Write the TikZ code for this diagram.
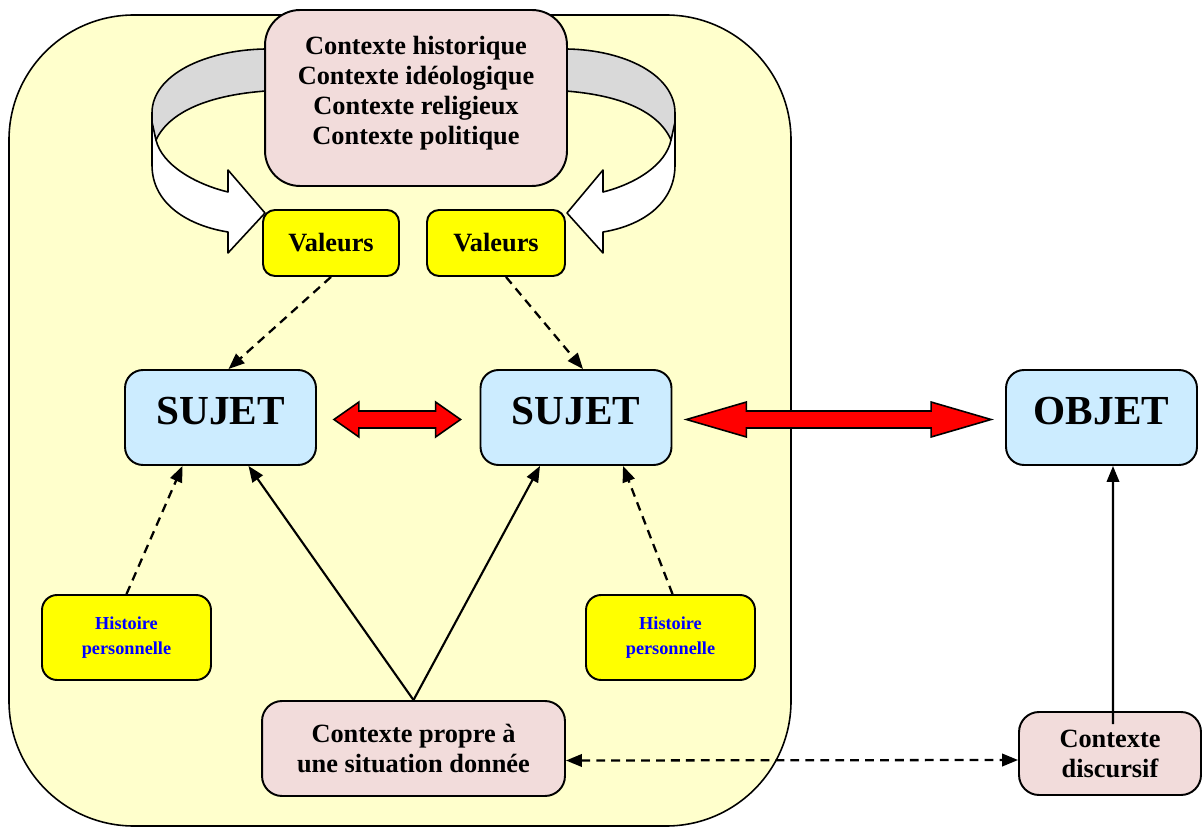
\documentclass[tikz,border=0pt]{standalone}
\usepackage{fontspec}
\setmainfont{Liberation Serif}
\usetikzlibrary{calc,arrows.meta}

\definecolor{fondjaune}{HTML}{FFFFCC}
\definecolor{rose}{HTML}{F2DCDB}
\definecolor{jaune}{HTML}{FFFF00}
\definecolor{bleuclair}{HTML}{CCECFF}
\definecolor{gris}{HTML}{D9D9D9}

\tikzset{
    boite/.style={draw, line width=1.1pt, align=center, inner sep=0pt,
        font=\bfseries\fontsize{15}{17}\selectfont},
    contexte/.style={boite, fill=rose, rounded corners=0.4cm},
    valeur/.style={boite, fill=jaune, rounded corners=0.24cm, minimum height=1.32cm},
    sujet/.style={boite, fill=bleuclair, rounded corners=0.36cm,
        minimum width=3.82cm, minimum height=1.9cm, text depth=2.6mm,
        font=\bfseries\fontsize{23.5}{26}\selectfont},
    histoire/.style={boite, fill=jaune, rounded corners=0.3cm, text=blue,
        minimum width=3.38cm, minimum height=1.7cm,
        font=\bfseries\fontsize{10.4}{14}\selectfont},
    pointe/.tip={Triangle[length=3.2mm,width=2.5mm]},
    pointille/.style={line width=1.3pt, dash pattern=on 5pt off 3.5pt, -pointe},
    fleche/.style={line width=1.2pt, -pointe},
    ruban/.style={draw, line width=0.9pt, line join=round},
}

\def\RedArrow#1#2#3{
    \filldraw[fill=red, line width=0.9pt]
    (#1) -- ++(#3,-17.5) -- ++(0,9) -- ($(#2)+(-#3,-8.5)$) -- ++(0,-9) -- (#2)
    -- ++(-#3,17.5) -- ++(0,-9) -- ($(#1)+(#3,8.5)$) -- ++(0,9) -- cycle;
}

\begin{document}
\begin{tikzpicture}[x=0.02cm, y=-0.02cm]
    \useasboundingbox (0,0) rectangle (1203,827);

    \filldraw[fill=fondjaune, line width=0.9pt, rounded corners=2.5cm] (9,15) rectangle (791,826);

    % rubans
    \filldraw[ruban, fill=white] (152,113) -- (152,165) .. controls (152,205) and (190,226) .. (228,232)
        -- (228,253) -- (265,213) -- (228,170) -- (228,192) .. controls (195,184) and (162,165) .. (156,140) -- cycle;
    \filldraw[ruban, fill=gris] (290,49) -- (265,49) .. controls (205,50) and (152,75) .. (152,113)
        -- (152,122) -- (156,140) .. controls (170,110) and (215,91) .. (290,90) -- cycle;
    \filldraw[ruban, fill=white] (675,113) -- (675,165) .. controls (675,205) and (640,226) .. (603,232)
        -- (603,253) -- (567,213) -- (603,170) -- (603,192) .. controls (635,184) and (666,165) .. (671,140) -- cycle;
    \filldraw[ruban, fill=gris] (542,49) -- (567,49) .. controls (625,50) and (675,75) .. (675,113)
        -- (675,122) -- (671,140) .. controls (658,110) and (615,91) .. (542,90) -- cycle;

    \node[contexte, minimum width=6.04cm, minimum height=3.52cm, rounded corners=0.7cm] (ctx) at (416,98)
        {Contexte historique\\Contexte idéologique\\Contexte religieux\\Contexte politique\rule[-9pt]{0pt}{9pt}};

    \node[valeur, minimum width=2.72cm] (val1) at (331,243) {Valeurs};
    \node[valeur, minimum width=2.76cm] (val2) at (496,243) {Valeurs};

    \node[sujet] (suj1) at (220.5,417.5) {SUJET};
    \node[sujet] (suj2) at (576,417.5) {SUJET};
    \node[sujet] (obj) at (1101.5,417.5) {OBJET};

    \node[histoire] (hist1) at (126.5,637.5) {Histoire\\personnelle};
    \node[histoire] (hist2) at (670.5,637.5) {Histoire\\personnelle};

    \node[contexte, minimum width=6.06cm, minimum height=1.9cm] (prop) at (413.5,748.5)
        {Contexte propre à\\une situation donnée};
    \node[contexte, minimum width=3.64cm, minimum height=1.66cm] (disc) at (1110,753.5)
        {Contexte\\discursif};

    \coordinate (ra1g) at ($(suj1.east)+(17,2)$);
    \coordinate (ra1d) at ($(suj2.west)+(-19,2)$);
    \coordinate (ra2g) at ($(suj2.east)+(14,2)$);
    \coordinate (ra2d) at ($(obj.west)+(-14,2)$);
    \RedArrow{ra1g}{ra1d}{25}
    \RedArrow{ra2g}{ra2d}{60}

    \draw[pointille] (val1.south) -- ($(suj1.north)+(8,0)$);
    \draw[pointille] ($(val2.south)+(10,0)$) -- ($(suj2.north)+(7,0)$);
    \draw[pointille] (hist1.north) -- ($(suj1.south)+(-38,0)$);
    \draw[pointille] ($(hist2.north)+(2,0)$) -- ($(suj2.south)+(47,0)$);

    \draw[fleche] (prop.north) -- ($(suj1.south)+(28,0)$);
    \draw[fleche] (prop.north) -- ($(suj2.south)+(-36,0)$);
    \draw[fleche] ($(disc.north)+(3,13)$) -- ($(obj.south)+(11.5,0)$);

    \draw[pointille, pointe-pointe] ($(prop.east)+(0,12)$) -- ($(disc.west)+(0,6.5)$);

\end{tikzpicture}
\end{document}
